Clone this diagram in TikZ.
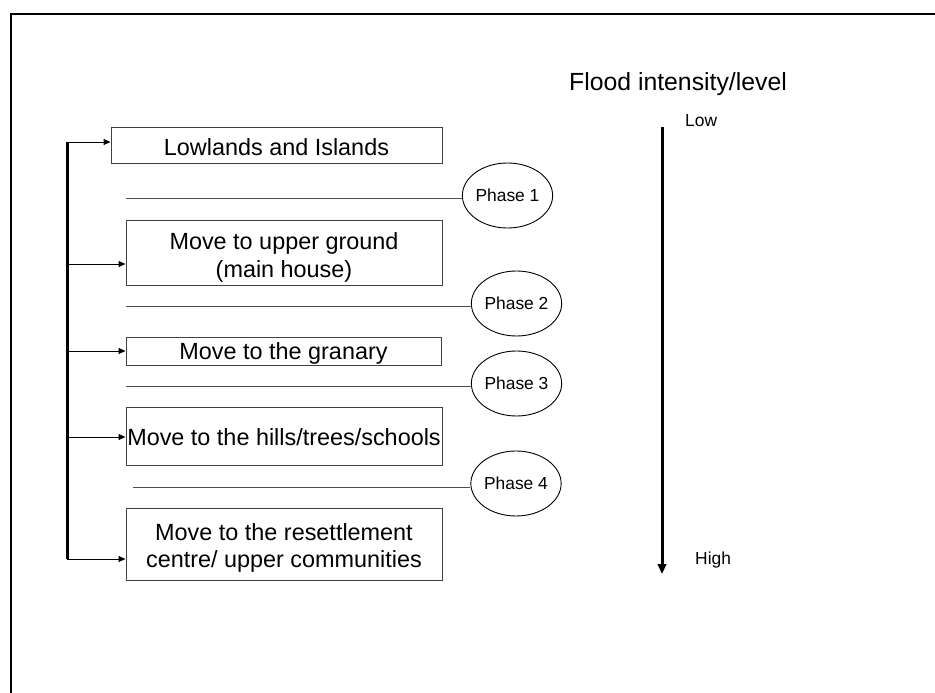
\documentclass[tikz,border=0pt]{standalone}
\usepackage{fontspec}
\setmainfont{Liberation Sans}
\usetikzlibrary{arrows.meta,shapes.geometric}
\begin{document}
\begin{tikzpicture}[x=1pt,y=-1pt,
  boxnode/.style={draw=black!75,line width=1pt,inner sep=0pt},
  boxtext/.style={align=center,inner sep=0pt,font=\fontsize{23.4}{27.5}\selectfont},
  phasenode/.style={draw=black,line width=0.9pt,ellipse,inner sep=0pt,
    minimum width=89pt,minimum height=65pt,font=\fontsize{17.4}{20}\selectfont},
  hline/.style={draw=black!70,line width=1pt},
  feed/.style={draw=black,line width=1pt,-{Triangle[length=7pt,width=6pt]}},
  bracket/.style={draw=black,line width=3pt},
  flow/.style={draw=black,line width=3pt,-{Triangle[length=10pt,width=8.5pt]}},
  smalltext/.style={font=\fontsize{17.4}{20}\selectfont,inner sep=0pt,anchor=west},
  frame/.style={draw=black,line width=2.2pt}]
\useasboundingbox (0,0) rectangle (935,693);
\draw[frame] (935,14) -- (11,14) -- (11,693);

% boxes
\node[boxnode,minimum width=331pt,minimum height=36pt,
  label={[boxtext,yshift=-2pt]center:Lowlands and Islands}] (b1) at (276.5,145) {};
\node[boxnode,minimum width=316pt,minimum height=65pt,
  label={[boxtext,yshift=-5pt]center:Move to upper ground\\(main house)}] (b2) at (284,252.5) {};
\node[boxnode,minimum width=315pt,minimum height=28pt,
  label={[boxtext,yshift=-2pt]center:Move to the granary}] (b3) at (283.5,351) {};
\node[boxnode,minimum width=316pt,minimum height=58pt,
  label={[boxtext,yshift=-1pt]center:Move to the hills/trees/schools}] (b4) at (284,436) {};
\node[boxnode,minimum width=316pt,minimum height=72pt,
  label={[boxtext,yshift=-4pt]center:Move to the resettlement\\centre/ upper communities}] (b5) at (284,544) {};

% phases
\node[phasenode] (p1) at (507.5,195.5) {Phase 1};
\node[phasenode] (p2) at (516.5,303.5) {Phase 2};
\node[phasenode] (p3) at (516.5,383.5) {Phase 3};
\node[phasenode] (p4) at (516,483.5) {Phase 4};

% phase lines
\coordinate (l1) at (126,198);
\coordinate (l2) at (126,306);
\coordinate (l3) at (126,386);
\coordinate (l4) at (133,487);
\draw[hline] (l1) -- (l1 -| p1.west);
\draw[hline] (l2) -- (l2 -| p2.west);
\draw[hline] (l3) -- (l3 -| p3.west);
\draw[hline] (l4) -- (l4 -| p4.west);

% bracket
\coordinate (a1) at (67,142);
\coordinate (a2) at (67,264);
\coordinate (a3) at (67,351);
\coordinate (a4) at (67,437);
\coordinate (a5) at (67,559);
\draw[bracket] (a1) -- (a5);
\draw[feed] (a1) -- (a1 -| b1.west);
\draw[feed] (a2) -- (a2 -| b2.west);
\draw[feed] (a3) -- (a3 -| b3.west);
\draw[feed] (a4) -- (a4 -| b4.west);
\draw[feed] (a5) -- (a5 -| b5.west);

% flood intensity
\node[font=\fontsize{24.8}{28}\selectfont,inner sep=0pt] (ft) at (678,84) {Flood intensity/level};
\coordinate (fa) at (662,127);
\coordinate (fb) at (662,574);
\draw[flow] (fa) -- (fb);
\node[smalltext] (low) at (685,121) {Low};
\node[smalltext] (high) at (695,560) {High};
\end{tikzpicture}
\end{document}
